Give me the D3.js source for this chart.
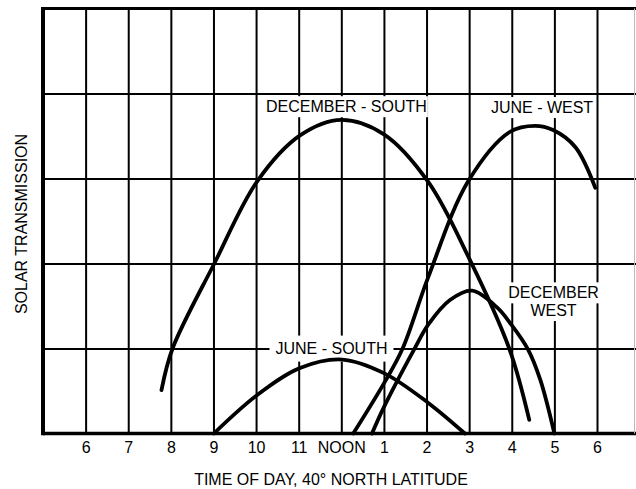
<!DOCTYPE html>
<html>
<head>
<meta charset="utf-8">
<script src="https://cdn.jsdelivr.net/npm/d3@7"></script>
<style>
  body { margin: 0; background: #fff; }
  text { font-family: "Liberation Sans", Arial, sans-serif; fill: #000; }
</style>
</head>
<body>
<div id="chart"></div>
<script>
// hours of day (24h) and their printed labels
const hours = [6, 7, 8, 9, 10, 11, 12, 13, 14, 15, 16, 17, 18];
const hourLabels = ["6", "7", "8", "9", "10", "11", "NOON", "1", "2", "3", "4", "5", "6"];
const levels = [1, 2, 3, 4];

// curves: [hour, transmission units]
const decemberSouth = [[7.78, 0.51], [8.04, 1.0], [9.02, 2.0], [10.03, 2.97], [11.04, 3.51],
  [12.0, 3.69], [13.0, 3.52], [14.04, 2.96], [15.0, 2.06], [15.94, 1.0], [16.41, 0.16]];
const juneWest = [[12.28, 0], [13.0, 0.59], [13.43, 0.99], [14.04, 1.84],
  [14.98, 2.97], [15.96, 3.55], [16.55, 3.62], [16.97, 3.57], [17.49, 3.37], [17.96, 2.89]];
const decemberWest = [[12.72, 0], [13.0, 0.31], [13.71, 0.99], [14.04, 1.28], [14.55, 1.57],
  [15.07, 1.68], [15.66, 1.48], [15.96, 1.30], [16.38, 0.99], [16.67, 0.63], [17.0, 0]];
const juneSouth = [[9.01, 0], [10.02, 0.45], [11.03, 0.77], [12.02, 0.87], [13.0, 0.71],
  [14.04, 0.36], [14.9, 0]];

const labelLines = [["DECEMBER - SOUTH"], ["JUNE - WEST"], ["DECEMBER", "WEST"], ["JUNE - SOUTH"]];
const labelAt = [[12.12, 3.78], [16.71, 3.77], [16.98, 1.59], [11.77, 0.94]];

const width = 636, height = 489;
const plotLeft = 43, plotRight = 636, plotTop = 8.5, plotBottom = 433.5;

const svg = d3.select("#chart").append("svg")
  .attr("width", width)
  .attr("height", height);

const x = d3.scaleLinear().domain([5, 18]).range([plotLeft, 597]);
const y = d3.scaleLinear().domain([0, 5]).range([plotBottom, plotTop]);

// vertical grid
svg.append("g")
  .attr("transform", `translate(0,${plotBottom})`)
  .call(d3.axisBottom(x).tickValues(hours).tickSize(-(plotBottom - plotTop)).tickFormat(""))
  .call(g => g.select(".domain").remove())
  .call(g => g.selectAll("line").attr("stroke", "#000").attr("stroke-width", 2));

// horizontal grid
svg.append("g")
  .attr("transform", `translate(${plotLeft},0)`)
  .call(d3.axisLeft(y).tickValues(levels).tickSize(-(plotRight - plotLeft)).tickFormat(""))
  .call(g => g.select(".domain").remove())
  .call(g => g.selectAll("line").attr("stroke", "#000").attr("stroke-width", 2));

// frame
svg.append("line").attr("x1", plotLeft).attr("x2", plotRight).attr("y1", plotTop).attr("y2", plotTop)
  .attr("stroke", "#000").attr("stroke-width", 3);
svg.append("line").attr("x1", plotLeft).attr("x2", plotRight).attr("y1", plotBottom).attr("y2", plotBottom)
  .attr("stroke", "#000").attr("stroke-width", 3.5);
svg.append("line").attr("x1", plotLeft).attr("x2", plotLeft).attr("y1", plotTop - 1.5).attr("y2", plotBottom + 1.75)
  .attr("stroke", "#000").attr("stroke-width", 4);
svg.append("line").attr("x1", 634.5).attr("x2", 634.5).attr("y1", plotTop).attr("y2", plotBottom)
  .attr("stroke", "#bbb").attr("stroke-width", 1);

// curve labels with white boxes
const pads = [1, 2, 3, 6];
labelLines.forEach((lines, i) => {
  const cx = x(labelAt[i][0]);
  const base = y(labelAt[i][1]);
  lines.forEach((t, j) => {
    const g = svg.append("g");
    const rect = g.append("rect").attr("fill", "#fff");
    const txt = g.append("text")
      .attr("x", cx)
      .attr("y", base + j * 17.7)
      .attr("text-anchor", "middle")
      .attr("font-size", 16)
      .text(t);
    const bb = txt.node().getBBox();
    const up = i === 3 ? 18 : 16;
    const down = i === 3 ? 8 : 5;
    rect.attr("x", bb.x - pads[i])
      .attr("width", bb.width + 2 * pads[i])
      .attr("y", base + j * 17.7 - up)
      .attr("height", up + down);
  });
});

// curves
const line = d3.line()
  .x(d => x(d[0]))
  .y(d => y(d[1]))
  .curve(d3.curveCatmullRom.alpha(0.5));

svg.selectAll("path.curve")
  .data([decemberSouth, juneWest, decemberWest, juneSouth])
  .enter()
  .append("path")
  .attr("class", "curve")
  .attr("d", line)
  .attr("fill", "none")
  .attr("stroke", "#000")
  .attr("stroke-width", 3.8)
  .attr("stroke-linecap", "round");

// hour labels
svg.append("g")
  .attr("transform", `translate(0,${plotBottom})`)
  .call(d3.axisBottom(x).tickValues(hours).tickSize(0).tickPadding(8)
    .tickFormat((d, i) => hourLabels[i]))
  .call(g => g.select(".domain").remove())
  .call(g => g.selectAll("text").attr("font-size", 16).attr("font-family", null));

// axis titles
svg.append("text")
  .attr("x", 331)
  .attr("y", 485)
  .attr("text-anchor", "middle")
  .attr("font-size", 16)
  .text("TIME OF DAY, 40° NORTH LATITUDE");

svg.append("text")
  .attr("transform", "translate(27,224) rotate(-90)")
  .attr("text-anchor", "middle")
  .attr("font-size", 16)
  .text("SOLAR TRANSMISSION");
</script>
</body>
</html>
